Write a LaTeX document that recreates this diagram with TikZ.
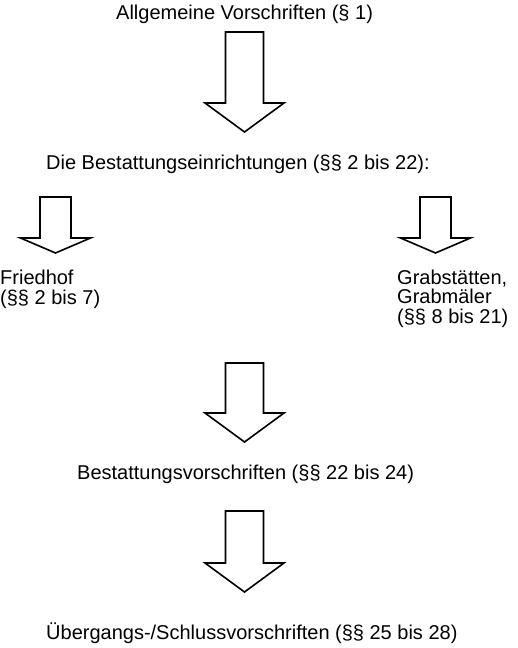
\documentclass[tikz,border=0pt]{standalone}
\usepackage{fontspec}
\setmainfont{Liberation Sans}
\begin{document}
\begin{tikzpicture}[x=1pt,y=-1pt,
  lbl/.style={font=\fontsize{20}{19.5}\selectfont, inner sep=0pt, anchor=base west, align=left},
  blockarrow/.style={draw=black, line width=1.6pt, fill=white, line join=miter}]
\useasboundingbox (0,0) rectangle (518,648);
% args: center x, shaft top, head top, tip, half shaft width, half head width
\newcommand{\barrow}[6]{%
  \draw[blockarrow] (#1-#5,#2) -- (#1+#5,#2) -- (#1+#5,#3) -- (#1+#6,#3) -- (#1,#4)
     -- (#1-#6,#3) -- (#1-#5,#3) -- cycle;}
\node[lbl] (t1) at (116,19) {Allgemeine Vorschriften (§ 1)};
\barrow{244.5}{32}{103}{132}{19}{39.5}
\node[lbl] (t2) at (46,169) {Die Bestattungseinrichtungen (§§ 2 bis 22):};
\barrow{55.5}{197}{238}{253}{15.5}{35}
\barrow{435.5}{197}{238}{253}{15.5}{35}
\node[lbl] (fr) at (0,304) {Friedhof\\(§§ 2 bis 7)};
\node[lbl] (gr) at (397,323) {Grabstätten,\\Grabmäler\\(§§ 8 bis 21)};
\barrow{244.5}{363}{413}{442}{19}{39.5}
\node[lbl] (t3) at (77,479) {Bestattungsvorschriften (§§ 22 bis 24)};
\barrow{244.5}{511}{563}{592}{19}{39.5}
\node[lbl] (t4) at (46,639) {Übergangs-/Schlussvorschriften (§§ 25 bis 28)};
\end{tikzpicture}
\end{document}
